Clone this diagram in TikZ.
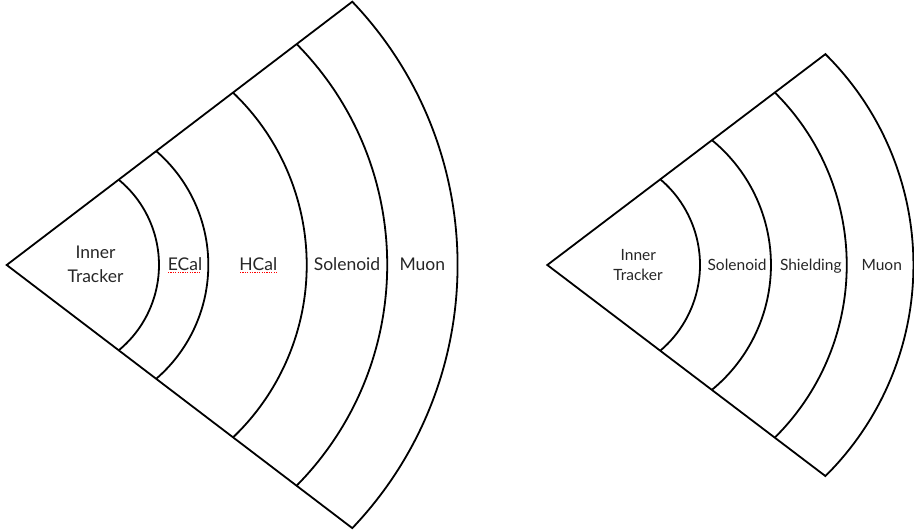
\documentclass[tikz,border=0pt]{standalone}
\usepackage{fontspec}
\setmainfont{Lato}
\begin{document}
\begin{tikzpicture}[x=1pt,y=1pt,
  layer/.style={draw=black, line width=1.8pt, line join=miter},
  lbl/.style={anchor=base, inner sep=0pt, font=\fontsize{17.5}{20}\selectfont, text=black!85},
  lbls/.style={anchor=base, inner sep=0pt, font=\fontsize{15.5}{18}\selectfont, text=black!85},
  spell/.style={red, line width=1.1pt, dash pattern=on 1.2pt off 1.2pt}]
\useasboundingbox (0,0) rectangle (914,531);
% ---------------- left wedge ----------------
\coordinate (A) at (6.7,266);
\draw[layer] (A) -- ++(345.6,263.3) arc[start angle=43.6, end angle=-43.6, radius=381.7] -- cycle;
\draw[layer] ([shift={(112.0,85.3)}]A) arc[start angle=50.55, end angle=-50.55, radius=110.5];
\draw[layer] ([shift={(149.5,113.9)}]A) arc[start angle=49.2, end angle=-49.2, radius=150.4];
\draw[layer] ([shift={(226.3,172.4)}]A) arc[start angle=46.3, end angle=-46.3, radius=238.5];
\draw[layer] ([shift={(290.0,220.9)}]A) arc[start angle=44.6, end angle=-44.6, radius=314.4];
\node[lbl] (inl) at (95.5,272) {Inner};
\node[lbl] (trl) at (95.5,248.6) {Tracker};
\node[lbl] (ecal) at (185,260.5) {ECal};
\node[lbl] (hcal) at (258.3,260.5) {HCal};
\node[lbl] (soll) at (347,260.5) {Solenoid};
\node[lbl] (muol) at (422.3,260.5) {Muon};
\draw[spell] (168,258.3) -- (201,258.3);
\draw[spell] (240,258.3) -- (277,258.3);
% ---------------- right wedge ----------------
\coordinate (B) at (547.3,266);
\draw[layer] (B) -- ++(278.1,210.85) arc[start angle=45.3, end angle=-45.3, radius=296.8] -- cycle;
\draw[layer] ([shift={(113.4,85.35)}]B) arc[start angle=49.46, end angle=-49.46, radius=112.3];
\draw[layer] ([shift={(164.9,124.65)}]B) arc[start angle=50.5, end angle=-50.5, radius=161.5];
\draw[layer] ([shift={(227.7,172.3)}]B) arc[start angle=45.2, end angle=-45.2, radius=242.9];
\node[lbls] (inr) at (638.3,270.5) {Inner};
\node[lbls] (trr) at (638,250.5) {Tracker};
\node[lbls] (solr) at (737,260.5) {Solenoid};
\node[lbls] (shr) at (810.8,260.5) {Shielding};
\node[lbls] (muor) at (881.7,260.5) {Muon};
\end{tikzpicture}
\end{document}
